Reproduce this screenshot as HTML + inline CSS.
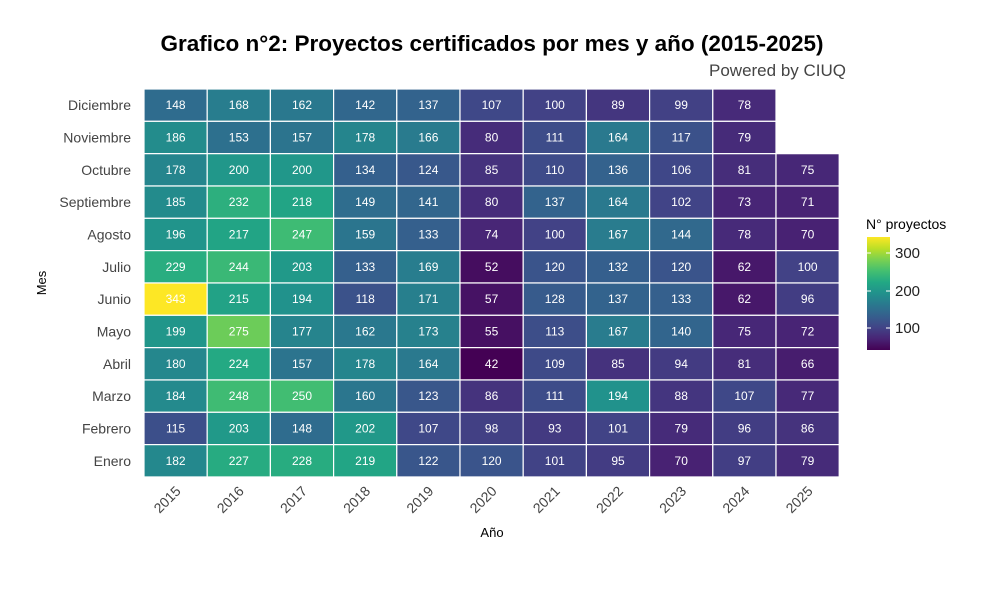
<!DOCTYPE html>
<html><head><meta charset="utf-8"><style>
body{margin:0;background:#fff;font-family:"Liberation Sans",sans-serif;}
</style></head><body>
<svg id="s" width="984" height="586" xmlns="http://www.w3.org/2000/svg" font-family="Liberation Sans, sans-serif">
<defs><linearGradient id="g" x1="0" y1="1" x2="0" y2="0">
</linearGradient></defs>
</svg>
<script>
const V=["#440154","#482475","#414487","#355f8d","#2a788e","#21918c","#22a884","#44bf70","#7ad151","#bddf26","#fde725"];
function hx(c){return [1,3,5].map(i=>parseInt(c.substr(i,2),16));}
function vir(t){t=Math.max(0,Math.min(1,t));const p=t*10,i=Math.min(9,Math.floor(p)),f=p-i;const a=hx(V[i]),b=hx(V[i+1]);return "rgb("+a.map((x,k)=>Math.round(x+(b[k]-x)*f)).join(",")+")";}
const D={
Diciembre:[148,168,162,142,137,107,100,89,99,78,null],
Noviembre:[186,153,157,178,166,80,111,164,117,79,null],
Octubre:[178,200,200,134,124,85,110,136,106,81,75],
Septiembre:[185,232,218,149,141,80,137,164,102,73,71],
Agosto:[196,217,247,159,133,74,100,167,144,78,70],
Julio:[229,244,203,133,169,52,120,132,120,62,100],
Junio:[343,215,194,118,171,57,128,137,133,62,96],
Mayo:[199,275,177,162,173,55,113,167,140,75,72],
Abril:[180,224,157,178,164,42,109,85,94,81,66],
Marzo:[184,248,250,160,123,86,111,194,88,107,77],
Febrero:[115,203,148,202,107,98,93,101,79,96,86],
Enero:[182,227,228,219,122,120,101,95,70,97,79]};
const order=["Diciembre","Noviembre","Octubre","Septiembre","Agosto","Julio","Junio","Mayo","Abril","Marzo","Febrero","Enero"];
const x0=144,y0=89,cw=63.2,ch=32.33,mn=42,mx=343;
let s='';
const g=document.querySelector('#g');
V.forEach((c,i)=>{g.innerHTML+='<stop offset="'+(i/10)+'" stop-color="'+c+'"/>';});
order.forEach((m,r)=>{
 D[m].forEach((v,c)=>{ if(v==null)return;
  const x=x0+c*cw,y=y0+r*ch;
  s+=`<rect x="${x}" y="${y}" width="${cw}" height="${ch}" fill="${vir((v-mn)/(mx-mn))}" stroke="#fff" stroke-width="1.2"/>`;
  s+=`<text x="${x+cw/2}" y="${y+ch/2+4}" font-size="12" fill="#fff" text-anchor="middle">${v}</text>`;
 });
 s+=`<text x="131" y="${y0+r*ch+ch/2+5}" font-size="14" fill="#444" text-anchor="end">${m}</text>`;
});
for(let c=0;c<11;c++){const x=x0+c*cw+cw/2+6;s+=`<text transform="translate(${x},492) rotate(-45)" font-size="14" fill="#444" text-anchor="end">${2015+c}</text>`;}
s+=`<text x="492" y="537" font-size="13" fill="#000" text-anchor="middle">Año</text>`;
s+=`<text transform="translate(46,283) rotate(-90)" font-size="13" fill="#000" text-anchor="middle">Mes</text>`;
s+=`<text x="492" y="51" font-size="22.5" font-weight="bold" fill="#000" text-anchor="middle">Grafico n°2: Proyectos certificados por mes y año (2015-2025)</text>`;
s+=`<text x="846" y="76" font-size="17" fill="#444" text-anchor="end">Powered by CIUQ</text>`;
s+=`<text x="866" y="229" font-size="14" fill="#000">N° proyectos</text>`;
s+=`<rect x="867" y="237" width="23" height="113" fill="url(#g)"/>`;
[[300,253],[200,291],[100,328]].forEach(([v,y])=>{
 s+=`<line x1="867" x2="871" y1="${y}" y2="${y}" stroke="#fff"/><line x1="886" x2="890" y1="${y}" y2="${y}" stroke="#fff"/>`;
 s+=`<text x="895" y="${y+5}" font-size="15" fill="#222">${v}</text>`;});
document.querySelector('#s').insertAdjacentHTML('beforeend',s);
</script>
</body></html>
